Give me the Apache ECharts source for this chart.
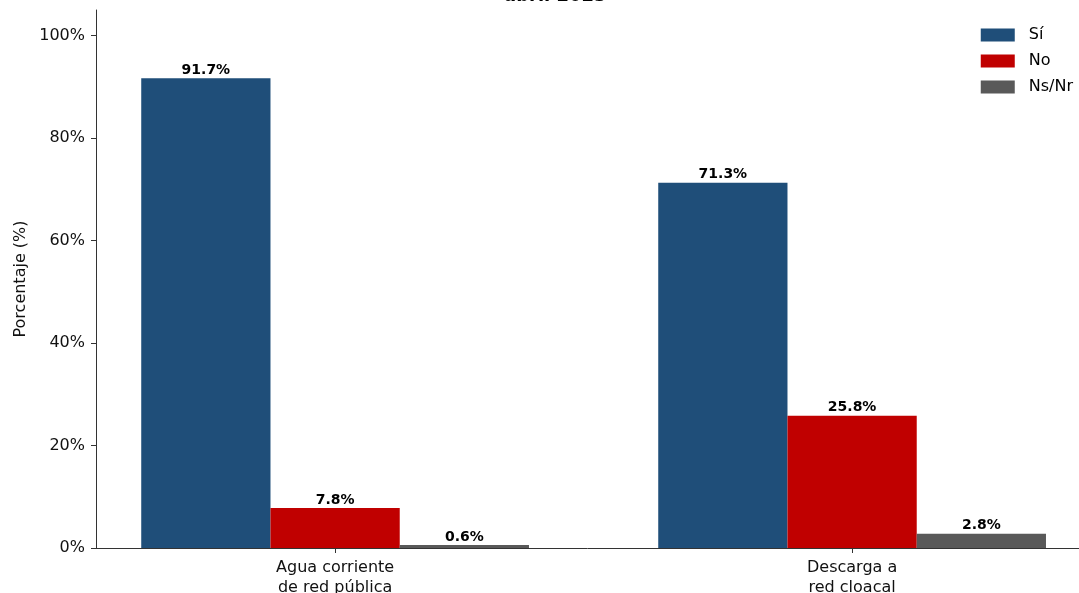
<!DOCTYPE html>
<html>
<head>
<meta charset="utf-8">
<script src="https://cdn.jsdelivr.net/npm/echarts@6/dist/echarts.min.js"></script>
<style>html,body{margin:0;padding:0;background:#fff;overflow:hidden}#c{width:1079px;height:593px}</style>
</head>
<body>
<div id="c"></div>
<script>
const categories = ['Agua corriente\nde red pública', 'Descarga a\nred cloacal'];
const seriesNames = ['Sí', 'No', 'Ns/Nr'];
const valuesSi = [91.7, 71.3];
const valuesNo = [7.8, 25.8];
const valuesNsNr = [0.6, 2.8];
const yTicks = [0, 20, 40, 60, 80, 100];
const titleText = 'abril 2025';

const colors = ['#1f4e79', '#c00000', '#595959'];
const allValues = [valuesSi, valuesNo, valuesNsNr];

const W = 1079, gridLeft = 96, gridRight = 0;
const pxPerUnit = 517;
const xMin = -0.4625;
const xMax = xMin + (W - gridLeft - gridRight) / pxPerUnit;
const barW = 0.25;
const font = 'DejaVu Sans';

const chart = echarts.init(document.getElementById('c'), null, {renderer: 'canvas'});
chart.setOption({
  animation: false,
  textStyle: {fontFamily: font},
  title: {
    text: titleText, left: 499, top: -18,
    textStyle: {fontFamily: font, fontSize: 18, fontWeight: 'bold', color: '#000'}
  },
  legend: {
    orient: 'vertical', right: 1, top: 22,
    itemWidth: 34, itemHeight: 13, itemGap: 10,
    icon: 'rect',
    textStyle: {fontFamily: font, fontSize: 16, color: '#000', padding: [0, 0, 0, 9]},
    data: seriesNames
  },
  grid: {left: gridLeft, right: gridRight, top: 10, bottom: 45, containLabel: false, outerBoundsMode: 'none'},
  xAxis: {
    type: 'value', min: xMin, max: xMax,
    splitLine: {show: false},
    axisLine: {show: true, onZero: false, lineStyle: {color: '#333', width: 1}},
    axisTick: {show: true, customValues: [0, 1], length: 5, lineStyle: {color: '#333'}},
    axisLabel: {
      customValues: [0, 1],
      formatter: v => categories[Math.round(v)] || '',
      fontFamily: font, fontSize: 16, color: '#111', lineHeight: 20, margin: 10
    }
  },
  yAxis: {
    type: 'value', min: 0, max: 105,
    name: 'Porcentaje (%)', nameLocation: 'middle', nameGap: 67, nameRotate: 90,
    nameTextStyle: {fontFamily: font, fontSize: 16, color: '#111'},
    splitLine: {show: false},
    axisLine: {show: true, onZero: false, lineStyle: {color: '#333', width: 1}},
    axisTick: {show: true, customValues: yTicks, length: 5, lineStyle: {color: '#333'}},
    axisLabel: {
      customValues: yTicks,
      formatter: v => v + '%',
      fontFamily: font, fontSize: 16, color: '#111', margin: 11
    }
  },
  series: seriesNames.map((name, i) => ({
    name: name,
    type: 'bar',
    barWidth: barW * pxPerUnit,
    barGap: '-100%',
    itemStyle: {color: colors[i]},
    label: {
      show: true, position: 'top', distance: 1,
      formatter: p => p.value[1].toFixed(1) + '%',
      fontFamily: font, fontSize: 14, fontWeight: 'bold', color: '#000'
    },
    data: allValues[i].map((v, k) => [k + (i - 1) * barW, v])
  }))
});
</script>
</body>
</html>
